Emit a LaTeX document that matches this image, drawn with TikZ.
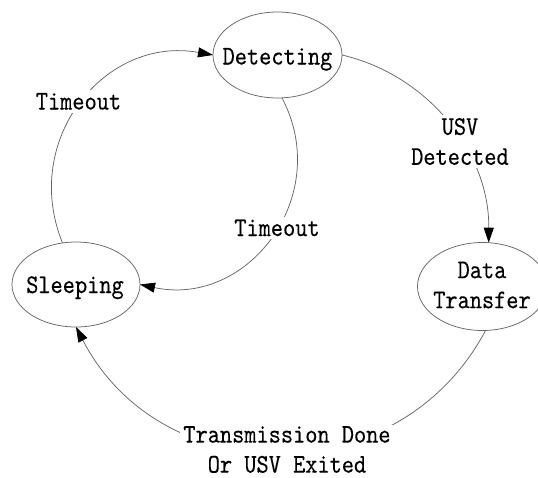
\documentclass[tikz,border=0pt]{standalone}
\usepackage{fontspec}
\usetikzlibrary{arrows.meta,shapes.geometric}
\newfontfamily\labfont{lmmono10-regular.otf}[FakeStretch=0.86,FakeBold=0.2]

\tikzset{
  state/.style={ellipse, draw=black!60, line width=0.75pt, inner sep=0pt, outer sep=0pt},
  txt/.style={font={\labfont\fontsize{27}{30}\selectfont}, inner sep=0pt},
  elab/.style={txt, fill=white, inner sep=3pt, align=center},
  trans/.style={draw=black!60, line width=0.75pt,
    -{Triangle[length=15pt,width=10pt,color=black]}}
}

\begin{document}
\begin{tikzpicture}[x=1pt,y=-1pt]
\useasboundingbox (0,0) rectangle (538,477);

% states
\node[state, minimum width=129pt, minimum height=86pt] (det)   at (277.5,55)   {};
\node[state, minimum width=128pt, minimum height=85pt] (sleep) at (76,284.5)   {};
\node[state, minimum width=130pt, minimum height=88pt] (dt)    at (482.5,286.5) {};

\node[txt, anchor=base] (detT)   at (277.5,64.5) {Detecting};
\node[txt, anchor=base] (sleepT) at (75,293)     {Sleeping};
\node[txt, align=center] (dtT)   at (482,285)    {Data\\Transfer};

% transitions
\draw[trans] (sleep.108) .. controls (20.6,140) and (104.5,35.6) .. (det.west);
\draw[trans] (det.-84) .. controls (333.4,195.8) and (248.2,307.6) .. (sleep.east);
\draw[trans] (det.east) .. controls (428.6,75.2) and (489.5,153) .. (dt.82);
\draw[trans] (dt.-86) .. controls (399.2,493.4) and (162,492.8) .. (sleep.south);

% transition labels
\node[elab, anchor=base] (l1) at (78.5,109.5) {Timeout};
\node[elab, anchor=base] (l2) at (277,236)    {Timeout};
\node[elab] (l3) at (460,141.5) {USV\\Detected};
\node[elab, inner ysep=1pt] (l4) at (287,449.5) {Transmission Done\\Or USV Exited};
\end{tikzpicture}
\end{document}
